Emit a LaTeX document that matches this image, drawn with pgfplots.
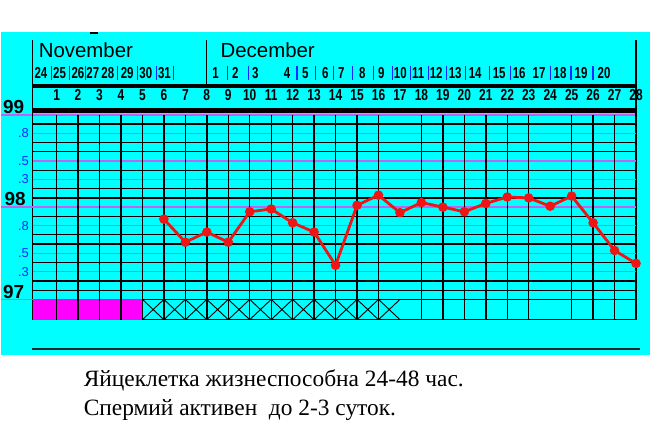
\documentclass[border=0pt]{standalone}
\usepackage{fontspec}
\setmainfont{Liberation Serif}
\newfontfamily\hdr{Liberation Sans}
\usepackage{pgfplots}
\pgfplotsset{compat=1.18}
\definecolor{bgcyan}{RGB}{0,255,255}
\definecolor{cellmag}{RGB}{255,0,255}
\definecolor{pinkline}{RGB}{190,100,240}
\definecolor{tempred}{RGB}{240,20,20}
\definecolor{lblblue}{RGB}{20,40,255}

\begin{document}
\begin{tikzpicture}
% background, in picture pixels (y downwards)
\begin{scope}[x=1bp,y=-1bp]
\useasboundingbox (0,0) rectangle (650,427);
\fill[white] (0,0) rectangle (650,427);
\fill[bgcyan] (0,32) rectangle (650,355);
\end{scope}

\begin{axis}[
  at={(32bp,-320bp)}, anchor=south west,
  width=604bp, height=205bp, scale only axis,
  xmin=-0.117, xmax=28, ymin=96.78, ymax=99,
  xtick=\empty, ytick=\empty,
  axis line style={black, line width=1.5bp},
  clip=false,
]
% violet lines at .3 .5 .8 and whole degrees
\pgfplotsinvokeforeach{97.3,97.5,97.8,98.3,98.5,98.8}{
  \draw[pinkline, line width=1.3bp] (axis cs:-0.117,#1) -- (axis cs:28,#1);
}
\pgfplotsinvokeforeach{98,99}{
  \draw[pinkline, line width=1.3bp] (axis cs:-1.607,#1) -- (axis cs:28,#1);
}
\draw[pinkline, line width=1.3bp] (axis cs:-1.607,97) -- (axis cs:-0.117,97);
% black lines every 0.1
\pgfplotsinvokeforeach{97.0,97.1,97.2,97.4,97.6,97.7,97.9,98.1,98.2,98.4,98.6,98.7,98.9}{
  \draw[black, line width=1.3bp] (axis cs:-0.117,#1) -- (axis cs:28,#1);
}
% first five cells of the bottom row
\fill[cellmag] (axis cs:-0.117,96.78) rectangle (axis cs:5,97);
% day lines
\pgfplotsinvokeforeach{1,2,3,4,5,6,7,8,9,10,11,12,13,14,15,16,18,19,20,21,22,23,25,26,27}{
  \draw[black, line width=1.4bp] (axis cs:#1,96.78) -- (axis cs:#1,99);
}
% crossed cells
\foreach \i [evaluate=\i as \j using int(\i+1)] in {5,...,16}{
  \edef\tmp{\noexpand\draw[black, line width=0.9bp] (axis cs:\i,96.78) -- (axis cs:\j,97) (axis cs:\i,97) -- (axis cs:\j,96.78);}\tmp
}
% temperature
\addplot[tempred, line width=2.8bp, mark=*, mark size=3.3bp,
  mark options={fill=tempred, draw=tempred}] coordinates {
  (6,97.87) (7,97.62) (8,97.73) (9,97.62) (10,97.95) (11,97.98)
  (12,97.83) (13,97.73) (14,97.37) (15,98.02) (16,98.13) (17,97.94)
  (18,98.05) (19,98.00) (20,97.95) (21,98.04) (22,98.11) (23,98.10)
  (24,98.01) (25,98.12) (26,97.83) (27,97.53) (28,97.39)
};
% cycle days
\pgfplotsinvokeforeach{1,...,28}{
  \node[font=\hdr\bfseries\fontsize{16}{16}\selectfont, anchor=base, inner sep=0pt, yshift=14bp]
    at (axis cs:#1,99) {\scalebox{0.75}[1]{#1}};
}
\end{axis}

\begin{scope}[x=1bp,y=-1bp]
% header frame
\draw[black, line width=1.5bp] (32,40) -- (32,116);
\draw[black, line width=1.5bp] (636,40) -- (636,116);
\draw[black, line width=1.5bp] (206,40) -- (206,86);
\draw[black, line width=3.5bp] (31,86) -- (637,86);
\draw[black, line width=5bp] (31,111) -- (637,111);
\draw[black, line width=1.2bp] (89,33) -- (97,33);
% months
\node[font=\hdr\fontsize{20.5}{20.5}\selectfont, anchor=base west, inner sep=0pt] at (38,58) {November};
\node[font=\hdr\fontsize{20.5}{20.5}\selectfont, anchor=base west, inner sep=0pt] at (220,58) {December};
% dates
\foreach \x/\t in {40.3/24,59/25,77.3/26,92.3/27,107.3/28,126.7/29,145.3/30,164/31,
  215/1,235/2,255/3,286.7/4,305/5,325/6,341/7,362/8,381/9,400/10,418/11,436/12,
  455/13,475/14,499/15,519/16,539/17,560/18,581/19,604/20}{
  \node[font=\hdr\bfseries\fontsize{16}{16}\selectfont, anchor=base, inner sep=0pt]
    at (\x,79) {\scalebox{0.72}[1]{\t}};
}
\foreach \x in {50.7,69,85,117,136.7,156,173.3,226.7,248.3,296.7,315,333,352,373,392,
  410,428,446,465,489,510,550,571,593}{
  \draw[lblblue, line width=1.2bp] (\x,66) -- (\x,80);
}
% temperature labels
\node[font=\hdr\bfseries\fontsize{19}{19}\selectfont, anchor=base, inner sep=0pt] at (13,114) {99};
\node[font=\hdr\bfseries\fontsize{19}{19}\selectfont, anchor=base, inner sep=0pt] at (14.5,206) {98};
\node[font=\hdr\bfseries\fontsize{19}{19}\selectfont, anchor=base, inner sep=0pt] at (13,299) {97};
\foreach \y/\t in {133.4/.8,161/.5,179.4/.3,225.8/.8,253.5/.5,271.9/.3}{
  \node[font=\hdr\fontsize{13}{13}\selectfont, text=lblblue, anchor=east, inner sep=0pt] at (28.5,\y) {\t};
}
% rule and notes below
\draw[black!85, line width=2bp] (31,349) -- (640,349);
\node[font=\fontsize{23.5}{23.5}\selectfont, anchor=base west, inner sep=0pt] at (83,387)
  {Яйцеклетка жизнеспособна 24-48 час.};
\node[font=\fontsize{23.5}{23.5}\selectfont, anchor=base west, inner sep=0pt] at (83,416)
  {Спермий активен \ до 2-3 суток.};
\end{scope}
\end{tikzpicture}
\end{document}
